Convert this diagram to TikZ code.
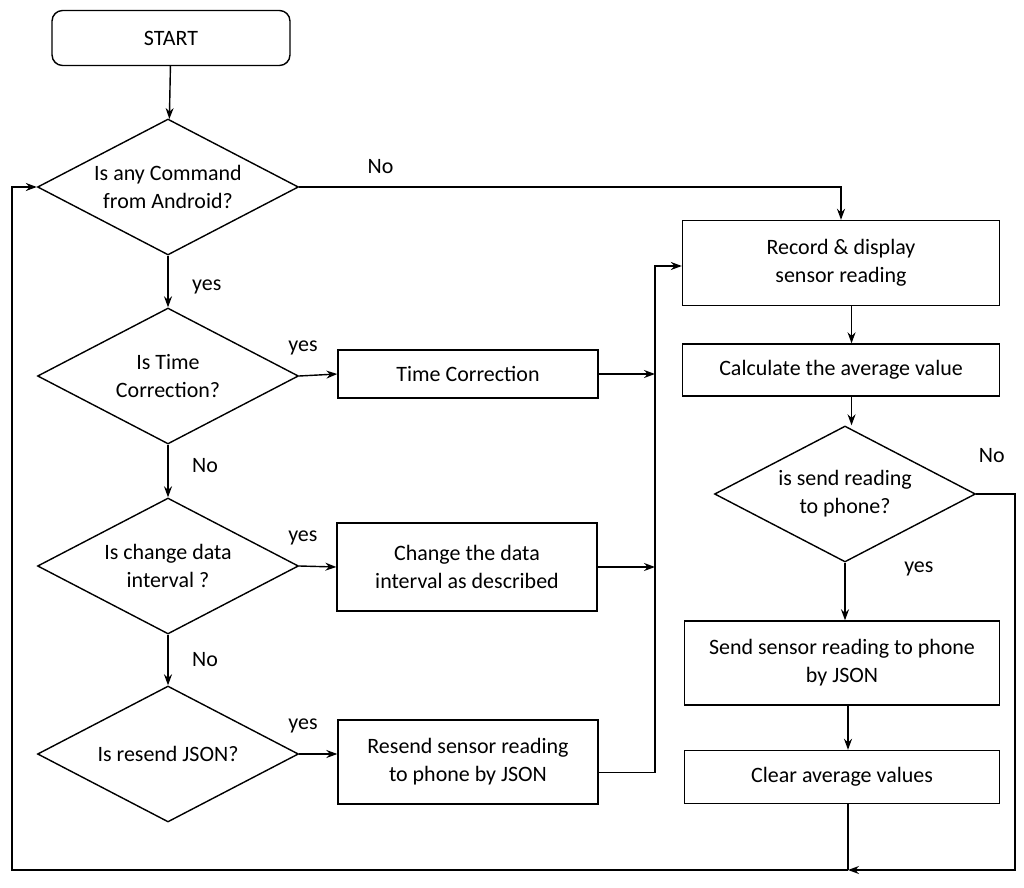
\documentclass[tikz,border=0pt]{standalone}
\usepackage{fontspec}
\setmainfont{Carlito}
\usetikzlibrary{arrows.meta,shapes.geometric}
\tikzset{font={\fontsize{12.5}{16}\selectfont}}
\tikzset{
  box/.style={draw,thick,minimum width=5.2cm,align=center,inner sep=2pt},
  dec/.style={draw,thick,diamond,aspect=1.92,minimum width=5.22cm,minimum height=2.72cm,inner sep=0pt,align=center},
  arr/.style={thick,-{Stealth[length=2.2mm,width=1.6mm]}},
  ln/.style={thick}
}

\begin{document}
\begin{tikzpicture}[x=0.02cm,y=-0.02cm]
  \useasboundingbox (0,0) rectangle (1024,888);

  \node[box,rounded corners=6pt,minimum width=4.76cm,minimum height=1.1cm] (start) at (171,38) {START};

  \node[dec] (d1) at (168,187) {Is any Command\\from Android?};
  \node[dec] (d2) at (168,376) {Is Time\\Correction?};
  \node[dec] (d3) at (168,566) {Is change data\\interval ?};
  \node[dec] (d4) at (168,754) {Is resend JSON?};

  \node[box,minimum height=0.96cm] (tc) at (468,374) {Time Correction};
  \node[box,minimum height=1.76cm] (cd) at (467,567) {Change the data\\interval as described};
  \node[box,minimum height=1.68cm] (rs) at (468,762) {Resend sensor reading\\to phone by JSON};

  \node[box,minimum width=6.34cm,minimum height=1.7cm] (rec) at (841,263) {Record \& display\\sensor reading};
  \node[box,minimum width=6.34cm,minimum height=1.04cm] (calc) at (841,370) {Calculate the average value};
  \node[dec] (d5) at (845,494) {is send reading\\to phone?};
  \node[box,minimum width=6.3cm,minimum height=1.68cm] (send) at (842,663) {Send sensor reading to phone\\by JSON};
  \node[box,minimum width=6.3cm,minimum height=1.06cm] (clr) at (842,777) {Clear average values};

  \coordinate (j) at (655,0);
  \coordinate (bot) at (848,870);

  % main column
  \draw[arr] (start) -- (d1);
  \draw[arr] (d1) -- node[pos=0.6,right=10pt] {yes} (d2);
  \draw[arr] (d2) -- node[pos=0.4,right=10pt] {No} (d3);
  \draw[arr] (d3) -- node[pos=0.5,right=10pt] {No} (d4);

  \draw[arr] (d1.east) -- (d1.east -| rec.north) node[pos=0.15,above=4pt] {No} -- (rec.north);
  \draw[arr] (d2.east) -- node[pos=0.1,above=8pt] {yes} (tc.west);
  \draw[arr] (d3.east) -- node[pos=0.1,above=8pt] {yes} (cd.west);
  \draw[arr] (d4.east) -- node[pos=0.1,above=8pt] {yes} (rs.west |- d4.east);

  \draw[arr] (tc.east) -- (tc.east -| j);
  \draw[arr] (cd.east) -- (cd.east -| j);
  \draw[arr] ([yshift=-6]rs.east) -- ([yshift=-6]rs.east -| j) -- (j |- 0,266) -- (rec.west |- 0,266);

  % right column
  \draw[arr] ([xshift=6]rec.south) -- ([xshift=6]rec.south |- calc.north);
  \draw[arr] ([xshift=6]calc.south) -- ([xshift=6]calc.south |- d5.north);
  \draw[arr] (d5.south) -- node[pos=0.1,right=30pt] {yes} (d5.south |- send.north);
  \draw[arr] (send.south -| bot) -- (clr.north -| bot);
  \draw[arr] (d5.east) -- (1015,494) node[pos=0.4,above=14pt] {No} -- (1015,870) -- (bot);
  \draw[ln] (clr.south -| bot) -- (bot);
  \draw[arr] (bot) -- (12,870) -- (12,187) -- (d1.west);
\end{tikzpicture}
\end{document}
